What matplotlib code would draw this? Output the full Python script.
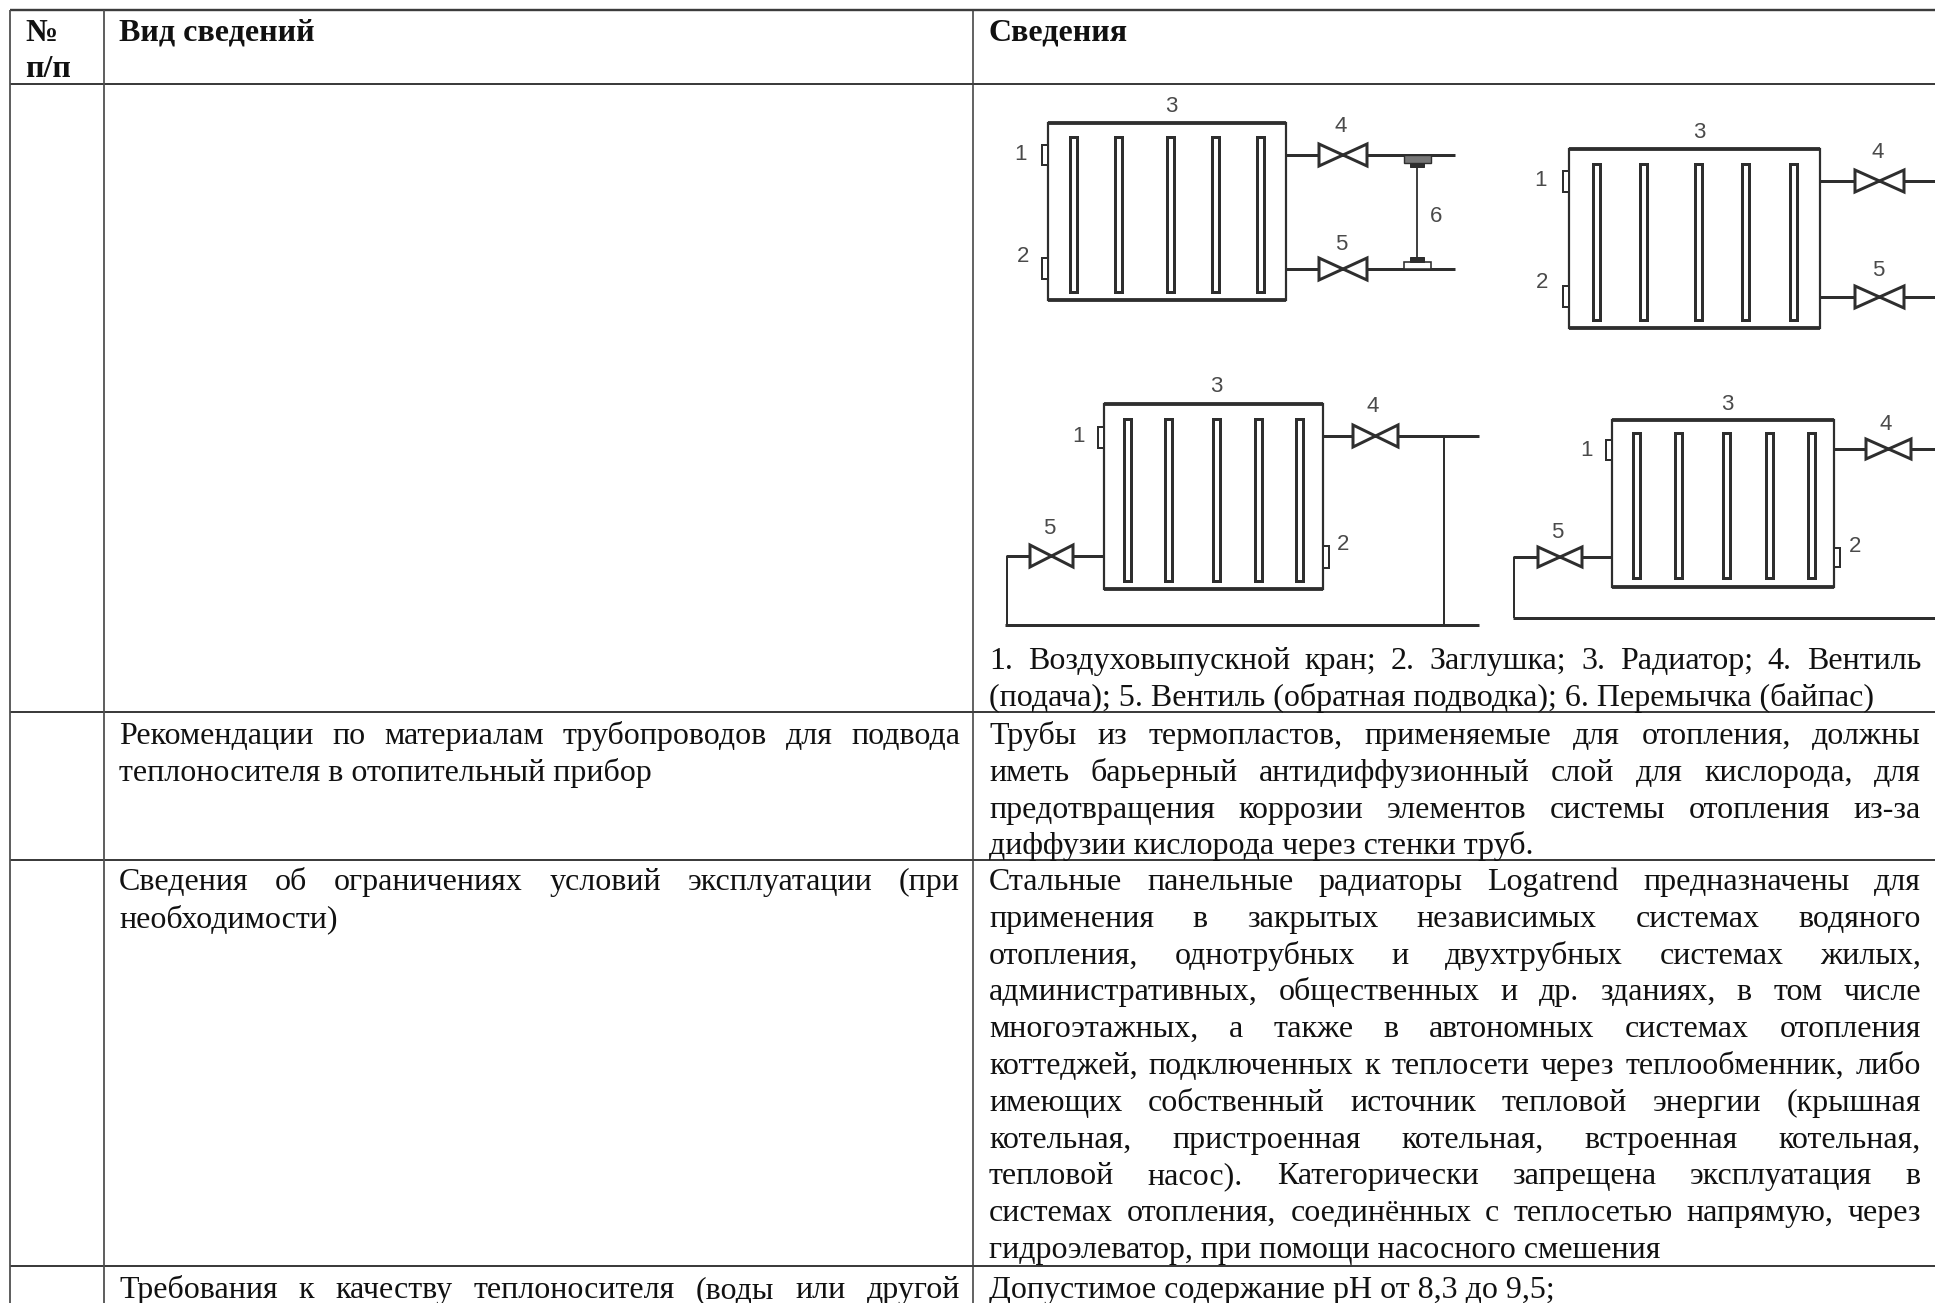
import matplotlib
matplotlib.use('Agg')
import matplotlib.pyplot as plt
from matplotlib.patches import Rectangle, Polygon

header_num = ['№', 'п/п']
header_kind = 'Вид сведений'
header_info = 'Сведения'

caption = ['1. Воздуховыпускной кран; 2. Заглушка; 3. Радиатор; 4. Вентиль',
           '(подача); 5. Вентиль (обратная подводка); 6. Перемычка (байпас)']

kind_pipes = ['Рекомендации по материалам трубопроводов для подвода',
              'теплоносителя в отопительный прибор']
info_pipes = ['Трубы из термопластов, применяемые для отопления, должны',
              'иметь барьерный антидиффузионный слой для кислорода, для',
              'предотвращения коррозии элементов системы отопления из-за',
              'диффузии кислорода через стенки труб.']

kind_limits = ['Сведения об ограничениях условий эксплуатации (при',
               'необходимости)']
info_limits = ['Стальные панельные радиаторы Logatrend предназначены для',
               'применения в закрытых независимых системах водяного',
               'отопления, однотрубных и двухтрубных системах жилых,',
               'административных, общественных и др. зданиях, в том числе',
               'многоэтажных, а также в автономных системах отопления',
               'коттеджей, подключенных к теплосети через теплообменник, либо',
               'имеющих собственный источник тепловой энергии (крышная',
               'котельная, пристроенная котельная, встроенная котельная,',
               'тепловой насос). Категорически запрещена эксплуатация в',
               'системах отопления, соединённых с теплосетью напрямую, через',
               'гидроэлеватор, при помощи насосного смешения']

kind_water = ['Требования к качеству теплоносителя (воды или другой']
info_water = ['Допустимое содержание pH от 8,3 до 9,5;']

W, H = 1935, 1303
LINE = '#3c3c3c'
INK = '#2e2e2e'
SIZE = 23
STEP = 36.8

fig = plt.figure(figsize=(W / 100, H / 100), dpi=100)
ax = fig.add_axes([0, 0, 1, 1])
ax.set_xlim(0, W)
ax.set_ylim(H, 0)
ax.axis('off')
rend = fig.canvas.get_renderer()


def px(w):
    return w * 0.72


def put_line(s, x0, x1, y, justify, weight='normal'):
    kw = dict(family='Liberation Serif', fontsize=SIZE, color='#111111', va='baseline', weight=weight)
    if not justify:
        ax.text(x0, y, s, **kw)
        return
    words = s.split()
    items = [ax.text(x0, y, w, **kw) for w in words]
    widths = [t.get_window_extent(rend).width for t in items]
    gap = (x1 - x0 - sum(widths)) / (len(words) - 1)
    x = x0
    for t, w in zip(items, widths):
        t.set_x(x)
        x += w + gap


def put_block(lines, x0, x1, y, last_full=False):
    for i, s in enumerate(lines):
        full = last_full or i < len(lines) - 1
        put_line(s, x0, x1, y + i * STEP, full)


def seg(x0, y0, x1, y1, w=3.0, c=INK):
    ax.plot([x0, x1], [y0, y1], color=c, lw=px(w), solid_capstyle='butt', zorder=3)


def num(x, y, s):
    ax.text(x, y + 2, s, family='Liberation Sans', fontsize=16, color='#4a4a4a', ha='center', va='center', zorder=5)


def valve(x0, x1, y, h=11):
    xm = (x0 + x1) / 2
    for a in (x0, x1):
        ax.add_patch(Polygon([(a, y - h), (a, y + h), (xm, y)], closed=True, fc='white', ec=INK,
                             lw=px(3), zorder=4))


def radiator(left, right, top, bottom, cols, ctop, cbot, tap1, tap2, tap2_right=False):
    ax.add_patch(Rectangle((left, top), right - left, bottom - top, fc='white', ec=INK, lw=px(2.2), zorder=2))
    seg(left, top, right, top, 3.8)
    seg(left, bottom, right, bottom, 3.8)
    for c in cols:
        ax.add_patch(Rectangle((c - 3.5, ctop), 7, cbot - ctop, fc='white', ec=INK, lw=px(3), zorder=3))
    ax.add_patch(Rectangle((left - 6, tap1[0]), 6, tap1[1] - tap1[0], fc='white', ec=INK, lw=px(2), zorder=3))
    tx = right if tap2_right else left - 6
    ax.add_patch(Rectangle((tx, tap2[0]), 6, tap2[1] - tap2[0], fc='white', ec=INK, lw=px(2), zorder=3))


# table grid
seg(10, 10, W, 10, 2.4, LINE)
seg(10, 84, W, 84, 2.0, LINE)
for y in (712, 860, 1266):
    seg(10, y, W, y, 2.0, LINE)
seg(10, 10, 10, H, 1.8, '#505050')
seg(104, 10, 104, H, 1.8, '#505050')
seg(973, 10, 973, H, 1.6, '#404040')

# header
put_line(header_num[0], 25, 0, 41, False, 'bold')
put_line(header_num[1], 25, 0, 77, False, 'bold')
put_line(header_kind, 119, 0, 41, False, 'bold')
put_line(header_info, 989, 0, 41, False, 'bold')

# diagram 1
radiator(1048, 1286, 123, 300, [1073, 1118, 1170, 1215, 1260], 137, 292, (145, 165), (258, 279))
seg(1286, 155, 1455, 155)
seg(1286, 269, 1455, 269)
valve(1319, 1367, 155)
valve(1319, 1367, 269)
seg(1417, 155, 1417, 269, 1.8)
ax.add_patch(Rectangle((1404, 155), 27, 8, fc='#777777', ec=INK, lw=px(1.4), zorder=4))
ax.add_patch(Rectangle((1410, 163), 14, 4, fc=INK, ec=INK, lw=px(1), zorder=4))
ax.add_patch(Rectangle((1404, 262), 27, 7, fc='white', ec=INK, lw=px(1.6), zorder=4))
ax.add_patch(Rectangle((1410, 257), 14, 5, fc=INK, ec=INK, lw=px(1), zorder=4))
for x, y, s in [(1171, 104, '3'), (1341, 124, '4'), (1341, 242, '5'), (1436, 215, '6'), (1021, 153, '1'), (1023, 254, '2')]:
    num(x, y, s)

# diagram 2
radiator(1569, 1820, 149, 328, [1596, 1643, 1698, 1745, 1793], 164, 320, (171, 192), (286, 307))
seg(1820, 181, W, 181)
seg(1820, 297, W, 297)
valve(1855, 1904, 181)
valve(1855, 1904, 297)
for x, y, s in [(1699, 131, '3'), (1878, 151, '4'), (1878, 269, '5'), (1540, 179, '1'), (1542, 281, '2')]:
    num(x, y, s)

# diagram 3
radiator(1104, 1323, 404, 589, [1127, 1168, 1216, 1258, 1299], 419, 581, (427, 448), (546, 568), True)
seg(1323, 436, 1479, 436)
seg(1444, 436, 1444, 625, 2.0)
seg(1005, 625, 1479, 625)
seg(1007, 556, 1007, 625, 2.0)
seg(1006, 556, 1104, 556)
valve(1353, 1398, 436)
valve(1030, 1073, 556)
for x, y, s in [(1216, 384, '3'), (1373, 405, '4'), (1049, 527, '5'), (1079, 434, '1'), (1343, 542, '2')]:
    num(x, y, s)

# diagram 4
radiator(1612, 1834, 420, 587, [1636, 1678, 1726, 1769, 1811], 433, 578, (440, 460), (548, 567), True)
seg(1834, 449, W, 449)
seg(1513, 618, W, 618)
seg(1514, 557, 1514, 618, 2.0)
seg(1513, 557, 1612, 557)
valve(1866, 1911, 449, 10)
valve(1538, 1582, 557, 10)
for x, y, s in [(1727, 402, '3'), (1886, 422, '4'), (1557, 531, '5'), (1587, 448, '1'), (1855, 544, '2')]:
    num(x, y, s)

# text cells
put_block(caption, 989, 1921, 669)
put_block(kind_pipes, 119, 960, 744)
put_block(info_pipes, 989, 1921, 744)
put_block(kind_limits, 119, 960, 890)
put_block(info_limits, 989, 1921, 890)
put_block(kind_water, 119, 960, 1298, True)
put_block(info_water, 989, 1921, 1298)

fig.savefig('out.png', dpi=100)
